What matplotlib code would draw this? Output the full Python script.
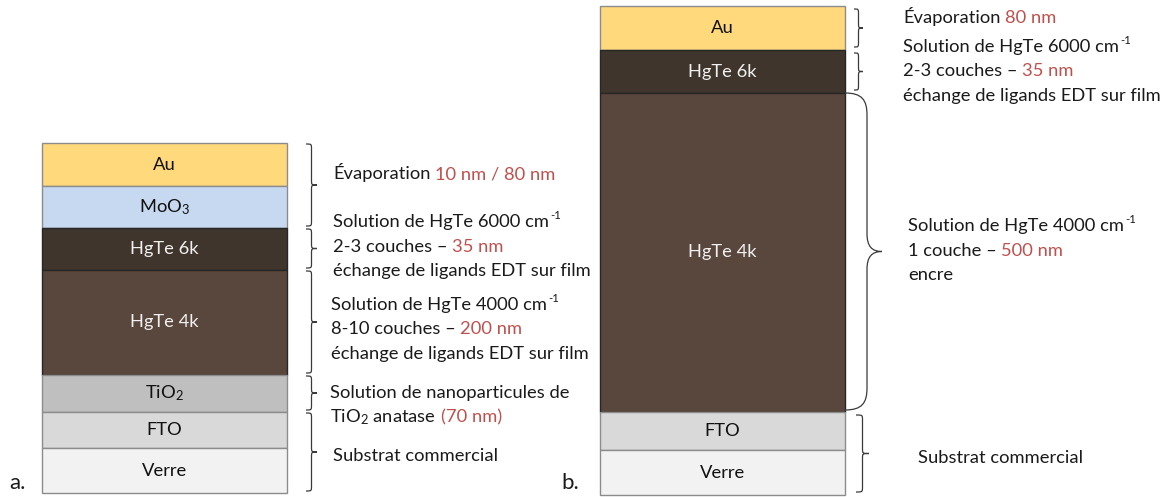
import matplotlib
matplotlib.use('Agg')
import matplotlib.pyplot as plt
from matplotlib.path import Path
from matplotlib.patches import PathPatch
import numpy as np

plt.rcParams['font.family'] = ['Lato', 'DejaVu Sans']
plt.rcParams['mathtext.fontset'] = 'custom'
plt.rcParams['mathtext.rm'] = 'Lato'
plt.rcParams['mathtext.it'] = 'Lato:italic'
plt.rcParams['mathtext.bf'] = 'Lato:bold'

# ---------------- data ----------------
layers_a = ['Au', r'MoO$_{\mathregular{3}}$', 'HgTe 6k', 'HgTe 4k', r'TiO$_{\mathregular{2}}$', 'FTO', 'Verre']
thick_a = [43, 42, 42, 105, 37, 36, 45]
layers_b = ['Au', 'HgTe 6k', 'HgTe 4k', 'FTO', 'Verre']
thick_b = [44, 43, 319, 38, 45]

layer_colors = {
    'Au': '#FFD97C',
    r'MoO$_{\mathregular{3}}$': '#C6D9F0',
    'HgTe 6k': '#40352C',
    'HgTe 4k': '#59463C',
    r'TiO$_{\mathregular{2}}$': '#BFBFBF',
    'FTO': '#D9D9D9',
    'Verre': '#F2F2F2',
}
dark_layers = {'HgTe 6k', 'HgTe 4k'}

# brace groups: (first layer index, last layer index)
braces_a = [(0, 1), (2, 2), (3, 3), (4, 4), (5, 6)]
braces_b = [(0, 0), (1, 1), (3, 4)]
big_brace_b = 2

RED = '#C0504D'
K = '#1A1A1A'
# segment: (text, colour, kind) kind: 'n' normal (space before), 'j' joined, 'sup' superscript
text_a = [
    [[("Évaporation", K, 'n'), ("10 nm / 80 nm", RED, 'n')]],
    [[("Solution de HgTe 6000 cm", K, 'n'), ("-1", K, 'sup')],
     [("2-3 couches –", K, 'n'), ("35 nm", RED, 'n')],
     [("échange de ligands EDT sur film", K, 'n')]],
    [[("Solution de HgTe 4000 cm", K, 'n'), ("-1", K, 'sup')],
     [("8-10 couches –", K, 'n'), ("200 nm", RED, 'n')],
     [("échange de ligands EDT sur film", K, 'n')]],
    [[("Solution de nanoparticules de", K, 'n')],
     [("TiO$_{\\mathregular{2}}$ anatase", K, 'n'), ("(70 nm)", RED, 'n')]],
    [[("Substrat commercial", K, 'n')]],
]
text_b = [
    [[("Évaporation", K, 'n'), ("80 nm", RED, 'n')]],
    [[("Solution de HgTe 6000 cm", K, 'n'), ("-1", K, 'sup')],
     [("2-3 couches –", K, 'n'), ("35 nm", RED, 'n')],
     [("échange de ligands EDT sur film", K, 'n')]],
    [[("Solution de HgTe 4000 cm", K, 'n'), ("-1", K, 'sup')],
     [("1 couche –", K, 'n'), ("500 nm", RED, 'n')],
     [("encre", K, 'n')]],
    [[("Substrat commercial", K, 'n')]],
]
# (x, first baseline) for each text block
text_pos_a = [(333, 179), (333, 227), (331, 310), (330, 398), (333, 420 + 41)]
text_pos_b = [(903, 23), (903, 52), (908, 231), (918, 463)]
LINE = 24.5
FS = 13.2
LFS = 13.2

W, H = 1168, 497
fig = plt.figure(figsize=(W / 100, H / 100), dpi=100)
ax = fig.add_axes([0, 0, 1, 1])
ax.set_xlim(0, W)
ax.set_ylim(H, 0)
ax.axis('off')


def draw_stack(layers, thick, xc, width, top):
    bottoms = top + np.concatenate([[0], np.cumsum(thick)[:-1]])
    for name, h, b in zip(layers, thick, bottoms):
        ec = '#262626' if name in dark_layers else '#8C8C8C'
        ax.bar(xc, h, bottom=b, width=width, color=layer_colors[name],
               edgecolor=ec, linewidth=1.0, zorder=2)
        tc = '#F0F0F0' if name in dark_layers else '#111111'
        ax.text(xc, b + h / 2, name, ha='center', va='center',
                fontsize=LFS, color=tc, zorder=3)
    return bottoms


def brace(x, y0, y1, w, r=5):
    xm = x + w / 2
    ym = (y0 + y1) / 2
    r = min(r, (y1 - y0) / 4)
    verts = [(x, y0), (xm, y0), (xm, y0), (xm, y0 + r),
             (xm, ym - r),
             (xm, ym), (xm, ym), (x + w, ym),
             (xm, ym), (xm, ym), (xm, ym + r),
             (xm, y1 - r),
             (xm, y1), (xm, y1), (x, y1)]
    codes = [Path.MOVETO, Path.CURVE4, Path.CURVE4, Path.CURVE4,
             Path.LINETO,
             Path.CURVE4, Path.CURVE4, Path.CURVE4,
             Path.CURVE4, Path.CURVE4, Path.CURVE4,
             Path.LINETO,
             Path.CURVE4, Path.CURVE4, Path.CURVE4]
    ax.add_patch(PathPatch(Path(verts, codes), fill=False, edgecolor='#3A3A3A',
                           linewidth=0.9, zorder=4))


def draw_text_blocks(blocks, positions):
    for block, (x, y) in zip(blocks, positions):
        for i, line in enumerate(block):
            yb = y + i * LINE
            prev = None
            for s, c, kind in line:
                if prev is None:
                    prev = ax.text(x, yb, s, ha='left', va='baseline',
                                   fontsize=FS, color=c, zorder=5)
                    continue
                if kind == 'sup':
                    off, fs = (0.6, FS * 0.45), FS * 0.62
                else:
                    off, fs = (3.4, 0), FS
                prev = ax.annotate(s, xy=(1, yb), xycoords=(prev, 'data'),
                                   xytext=off, textcoords='offset points',
                                   ha='left', va='baseline', fontsize=fs,
                                   color=c, zorder=5)


# ---- panel a ----
top_a = 143
bot_a = draw_stack(layers_a, thick_a, 164.5, 245, top_a)
ends_a = bot_a + np.array(thick_a)
for (i0, i1) in braces_a:
    brace(306, bot_a[i0] + 1, ends_a[i1] - 2, 11)
draw_text_blocks(text_a, text_pos_a)
ax.text(9, 489, 'a.', fontsize=16, ha='left', va='baseline', color=K)

# ---- panel b ----
top_b = 6
bot_b = draw_stack(layers_b, thick_b, 722.5, 245, top_b)
ends_b = bot_b + np.array(thick_b)
for (i0, i1) in braces_b:
    x0 = 854 if i1 < big_brace_b else 856
    w = 9 if i1 < big_brace_b else 13
    brace(x0, bot_b[i0] + 3, ends_b[i1] - 3, w)

# large brace around HgTe 4k
y0 = bot_b[big_brace_b]
y1 = ends_b[big_brace_b] - 2
ym = (y0 + y1) / 2
xs, xv, xt = 845, 867, 882
verts = [(xs, y0), (862, y0), (xv, y0 + 7), (xv, y0 + 22),
         (xv, ym - 18),
         (xv, ym - 5), (872, ym), (xt, ym),
         (872, ym), (xv, ym + 5), (xv, ym + 18),
         (xv, y1 - 22),
         (xv, y1 - 7), (862, y1), (xs, y1)]
codes = [Path.MOVETO, Path.CURVE4, Path.CURVE4, Path.CURVE4,
         Path.LINETO,
         Path.CURVE4, Path.CURVE4, Path.CURVE4,
         Path.CURVE4, Path.CURVE4, Path.CURVE4,
         Path.LINETO,
         Path.CURVE4, Path.CURVE4, Path.CURVE4]
ax.add_patch(PathPatch(Path(verts, codes), fill=False, edgecolor='#3A3A3A',
                       linewidth=0.9, zorder=4))
draw_text_blocks(text_b, text_pos_b)
ax.text(561, 489, 'b.', fontsize=16, ha='left', va='baseline', color=K)

fig.savefig('out.png', dpi=100)
